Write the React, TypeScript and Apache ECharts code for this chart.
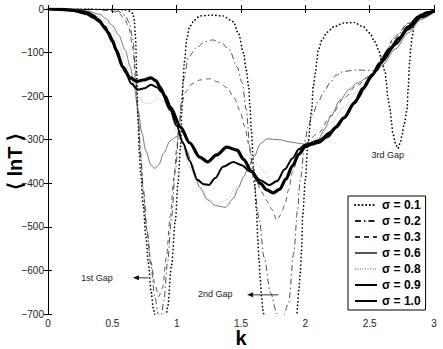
import React, { useEffect, useRef } from 'react';
import * as echarts from 'echarts';

type Pt = [number, number];

const seriesNames = ['σ = 0.1', 'σ = 0.2', 'σ = 0.3', 'σ = 0.6', 'σ = 0.8', 'σ = 0.9', 'σ = 1.0'];

const sigma01: Pt[] = [
  [0, 0], [0.3, 0], [0.5, -1], [0.6, -2], [0.64, -5], [0.66, -10], [0.67, -25], [0.68, -65], [0.69, -150],
  [0.7, -260], [0.71, -330], [0.72, -376], [0.74, -450], [0.76, -520], [0.78, -583], [0.8, -645], [0.82, -690],
  [0.85, -740], [0.88, -760], [0.91, -730], [0.93, -684], [0.96, -588], [0.99, -485], [1.01, -400], [1.03, -316],
  [1.04, -232], [1.05, -163], [1.06, -121], [1.08, -67], [1.1, -41], [1.14, -25], [1.18, -16], [1.27, -14],
  [1.36, -16], [1.44, -29], [1.48, -56], [1.52, -101], [1.54, -140], [1.56, -178], [1.57, -225], [1.58, -278],
  [1.6, -370], [1.62, -461], [1.63, -525], [1.64, -576], [1.65, -622], [1.66, -661], [1.67, -691], [1.7, -760],
  [1.8, -820], [1.9, -780], [1.93, -720], [1.94, -680], [1.95, -645], [1.96, -606], [1.97, -558], [1.98, -472],
  [2.0, -392], [2.02, -308], [2.05, -232], [2.06, -180], [2.08, -145], [2.09, -117], [2.1, -94], [2.13, -71],
  [2.17, -53], [2.22, -41], [2.3, -32], [2.38, -31], [2.45, -41], [2.5, -55], [2.54, -75], [2.57, -94],
  [2.59, -117], [2.62, -144], [2.63, -170], [2.64, -202], [2.66, -232], [2.67, -262], [2.68, -285], [2.7, -308],
  [2.72, -320], [2.74, -305], [2.75, -290], [2.77, -262], [2.79, -232], [2.8, -180], [2.81, -125], [2.82, -90],
  [2.83, -64], [2.85, -30], [2.9, -12], [3.0, -3],
];

const sigma02: Pt[] = [
  [0, 0], [0.3, 0], [0.4, -1], [0.5, -3], [0.55, -6], [0.6, -15], [0.63, -30], [0.66, -70], [0.68, -140],
  [0.7, -240], [0.72, -330], [0.74, -410], [0.77, -510], [0.8, -590], [0.83, -660], [0.86, -705], [0.88, -705],
  [0.9, -670], [0.93, -580], [0.96, -480], [0.99, -370], [1.02, -270], [1.04, -200], [1.06, -155], [1.09, -110],
  [1.16, -87], [1.22, -75], [1.28, -71], [1.35, -78], [1.41, -94], [1.47, -133], [1.51, -170], [1.54, -230],
  [1.57, -320], [1.6, -400], [1.64, -480], [1.68, -570], [1.73, -652], [1.78, -700], [1.82, -712], [1.87, -675],
  [1.91, -560], [1.94, -460], [1.96, -392], [2.0, -300], [2.02, -270], [2.06, -240], [2.1, -212], [2.15, -188],
  [2.19, -170], [2.24, -152], [2.3, -143], [2.4, -140], [2.5, -141], [2.55, -142], [2.6, -112], [2.7, -66],
  [2.8, -33], [2.9, -12], [3.0, -3],
];

const sigma03: Pt[] = [
  [0, 0], [0.3, 0], [0.4, -2], [0.5, -5], [0.55, -10], [0.6, -25], [0.63, -45], [0.66, -90], [0.68, -160],
  [0.7, -250], [0.72, -340], [0.74, -420], [0.77, -510], [0.8, -580], [0.83, -630], [0.86, -660], [0.89, -640],
  [0.92, -570], [0.95, -475], [0.98, -385], [1.0, -320], [1.02, -260], [1.04, -215], [1.07, -190], [1.12, -172],
  [1.18, -163], [1.25, -160], [1.32, -167], [1.39, -180], [1.45, -205], [1.49, -232], [1.53, -270], [1.56, -310],
  [1.59, -360], [1.62, -395], [1.66, -420], [1.7, -440], [1.74, -460], [1.78, -485], [1.81, -472], [1.84, -450],
  [1.87, -415], [1.9, -375], [1.95, -330], [2.0, -308], [2.1, -285], [2.2, -245], [2.3, -205], [2.4, -175],
  [2.5, -155], [2.54, -145], [2.6, -108], [2.7, -62], [2.8, -33], [2.9, -13], [3.0, -3],
];

const sigma06: Pt[] = [
  [0, 0], [0.2, -1], [0.3, -4], [0.4, -12], [0.45, -22], [0.5, -38], [0.55, -60], [0.6, -94], [0.64, -133],
  [0.67, -180], [0.7, -232], [0.73, -285], [0.76, -325], [0.8, -358], [0.83, -366], [0.86, -358], [0.9, -330],
  [0.95, -302], [1.0, -293], [1.04, -300], [1.08, -325], [1.13, -370], [1.18, -410], [1.24, -438], [1.3, -451],
  [1.38, -455], [1.44, -435], [1.48, -410], [1.52, -385], [1.56, -360], [1.6, -340], [1.65, -310], [1.7, -298],
  [1.8, -300], [1.88, -305], [1.94, -308], [2.03, -312], [2.1, -300], [2.15, -275], [2.2, -245], [2.27, -209],
  [2.34, -185], [2.4, -170], [2.5, -155], [2.55, -144], [2.6, -128], [2.7, -92], [2.8, -55], [2.9, -24], [3.0, -7],
];

const sigma08: Pt[] = [
  [0, 0], [0.2, -2], [0.3, -6], [0.4, -18], [0.45, -30], [0.5, -50], [0.55, -80], [0.6, -120], [0.65, -165],
  [0.7, -200], [0.75, -216], [0.8, -216], [0.85, -205], [0.9, -212], [0.95, -240], [1.0, -280], [1.03, -296],
  [1.1, -363], [1.18, -408], [1.26, -438], [1.31, -447], [1.39, -438], [1.47, -408], [1.55, -374], [1.62, -355],
  [1.68, -372], [1.74, -395], [1.78, -398], [1.84, -370], [1.9, -338], [1.95, -318], [2.0, -310], [2.1, -295],
  [2.2, -262], [2.3, -225], [2.4, -190], [2.5, -160], [2.55, -145], [2.6, -126], [2.7, -90], [2.8, -53],
  [2.9, -22], [3.0, -7],
];

const sigma09: Pt[] = [
  [0, 0], [0.1, -1], [0.2, -4], [0.3, -12], [0.35, -20], [0.4, -30], [0.45, -48], [0.5, -75], [0.55, -110],
  [0.6, -145], [0.65, -172], [0.7, -185], [0.75, -182], [0.8, -174], [0.85, -180], [0.88, -190], [0.95, -232],
  [1.0, -268], [1.05, -308], [1.1, -348], [1.16, -392], [1.21, -402], [1.25, -404], [1.3, -388], [1.36, -362],
  [1.44, -351], [1.5, -358], [1.58, -374], [1.65, -393], [1.72, -404], [1.78, -395], [1.84, -368], [1.9, -343],
  [1.95, -322], [2.0, -311], [2.1, -302], [2.2, -282], [2.3, -250], [2.4, -208], [2.5, -160], [2.55, -142],
  [2.6, -120], [2.7, -82], [2.8, -47], [2.9, -19], [3.0, -5],
];

const sigma10: Pt[] = [
  [0, 0], [0.1, -1], [0.2, -3], [0.25, -6], [0.31, -9], [0.35, -15], [0.39, -25], [0.44, -41], [0.47, -55],
  [0.5, -72], [0.53, -94], [0.58, -133], [0.64, -158], [0.69, -166], [0.74, -163], [0.8, -158], [0.84, -165],
  [0.87, -179], [0.91, -200], [0.95, -225], [1.03, -271], [1.1, -307], [1.18, -340], [1.24, -351], [1.31, -335],
  [1.39, -317], [1.47, -324], [1.52, -345], [1.58, -372], [1.65, -400], [1.7, -415], [1.75, -422], [1.8, -414],
  [1.85, -390], [1.9, -360], [1.95, -333], [2.0, -316], [2.05, -310], [2.1, -306], [2.17, -293], [2.24, -271],
  [2.3, -250], [2.38, -216], [2.45, -182], [2.52, -151], [2.58, -125], [2.65, -94], [2.73, -67], [2.8, -41],
  [2.88, -18], [2.95, -8], [3.0, -5],
];

const seriesData: Pt[][] = [sigma01, sigma02, sigma03, sigma06, sigma08, sigma09, sigma10];

// annotation anchors in data coordinates
const gapLabels = ['1st Gap', '2nd Gap', '3rd Gap'];
const gapLabelAt: Pt[] = [[0.38, -617], [1.3, -655], [2.64, -335]];
const gapArrowFrom: Pt[] = [[0.78, -617], [1.79, -656]];
const gapArrowTo: Pt[] = [[0.66, -617], [1.547, -656]];

const FONT = '"Liberation Sans", Arial, Helvetica, sans-serif';

const lineStyles = [
  { color: '#000', width: 1.7, type: [0.1, 3.6], cap: 'round' },
  { color: '#222', width: 0.8, type: [6, 3, 1.5, 3] },
  { color: '#333', width: 0.8, type: [5, 4] },
  { color: '#555', width: 0.8, type: 'solid' },
  { color: '#aaa', width: 0.9, type: [1, 1.5] },
  { color: '#000', width: 2, type: 'solid' },
  { color: '#000', width: 3.2, type: 'solid' },
];

export default function App() {
  const ref = useRef<HTMLDivElement>(null);
  useEffect(() => {
    const chart = echarts.init(ref.current!, null, { renderer: 'svg' });
    const axisCommon = {
      axisLine: { show: true, lineStyle: { color: '#000', width: 1 } },
      axisTick: { show: true, inside: true, length: 4, lineStyle: { color: '#000' } },
      splitLine: { show: false },
    };
    chart.setOption({
      animation: false,
      backgroundColor: '#fff',
      grid: { left: 48, right: 9, top: 9, bottom: 35, containLabel: false, outerBoundsMode: 'none' },
      xAxis: [
        {
          ...axisCommon,
          type: 'value', min: 0, max: 3, interval: 0.5, position: 'bottom',
          axisLabel: { fontFamily: FONT, fontSize: 10, color: '#222', margin: 4 },
          name: 'k', nameLocation: 'middle', nameGap: 14, nameMoveOverlap: false,
          nameTextStyle: { fontFamily: FONT, fontSize: 20, fontWeight: 'bold', color: '#000', lineHeight: 20 },
        },
        {
          ...axisCommon,
          type: 'value', min: 0, max: 3, interval: 0.5, position: 'top',
          axisLabel: { show: false },
        },
      ],
      yAxis: [
        {
          ...axisCommon,
          type: 'value', min: -700, max: 0, interval: 100, position: 'left',
          axisLabel: {
            fontFamily: FONT, fontSize: 10, color: '#222', margin: 4,
            formatter: (v: number) => String(v).replace('-', '−'),
          },
          name: '⟨ lnT ⟩', nameLocation: 'middle', nameGap: 22, nameRotate: 90, nameMoveOverlap: false,
          nameTextStyle: { fontFamily: FONT, fontSize: 20, fontWeight: 'bold', color: '#000', lineHeight: 22 },
        },
        {
          ...axisCommon,
          type: 'value', min: -700, max: 0, interval: 100, position: 'right',
          axisLabel: { show: false },
        },
      ],
      legend: {
        orient: 'vertical',
        left: 348, top: 196,
        data: seriesNames,
        itemWidth: 22, itemHeight: 12, itemGap: 4,
        padding: [3, 5, 3, 6],
        borderColor: '#000', borderWidth: 1, borderRadius: 0,
        backgroundColor: '#fff',
        itemStyle: { opacity: 0 },
        textStyle: { fontFamily: FONT, fontSize: 12, fontWeight: 'bold', color: '#000' },
      },
      series: seriesNames.map((name, i) => ({
        name,
        type: 'line',
        data: seriesData[i],
        xAxisIndex: 0,
        yAxisIndex: 0,
        symbol: 'none',
        symbolSize: 0,
        showSymbol: false,
        smooth: 0.3,
        smoothMonotone: 'x',
        clip: true,
        lineStyle: lineStyles[i],
        itemStyle: { color: lineStyles[i].color },
        z: 2 + i,
      })),
    });

    const graphics: any[] = [];
    gapLabels.forEach((t, i) => {
      const p = chart.convertToPixel({ gridIndex: 0 }, gapLabelAt[i]) as number[];
      graphics.push({
        type: 'text', x: p[0], y: p[1], z: 50,
        style: { text: t, fontFamily: FONT, fontSize: 9, fill: '#222', align: 'center', verticalAlign: 'middle' },
      });
    });
    gapArrowFrom.forEach((from, i) => {
      const a = chart.convertToPixel({ gridIndex: 0 }, from) as number[];
      const b = chart.convertToPixel({ gridIndex: 0 }, gapArrowTo[i]) as number[];
      graphics.push({
        type: 'line', z: 50,
        shape: { x1: a[0], y1: a[1], x2: b[0] + 4, y2: b[1] },
        style: { stroke: '#333', lineWidth: 1 },
      });
      graphics.push({
        type: 'polygon', z: 50,
        shape: { points: [[b[0], b[1]], [b[0] + 6, b[1] - 2.5], [b[0] + 6, b[1] + 2.5]] },
        style: { fill: '#111' },
      });
    });
    chart.setOption({ graphic: graphics });

    return () => chart.dispose();
  }, []);
  return <div ref={ref} style={{ position: 'absolute', left: 0, top: 0, width: 443, height: 349 }} />;
}
